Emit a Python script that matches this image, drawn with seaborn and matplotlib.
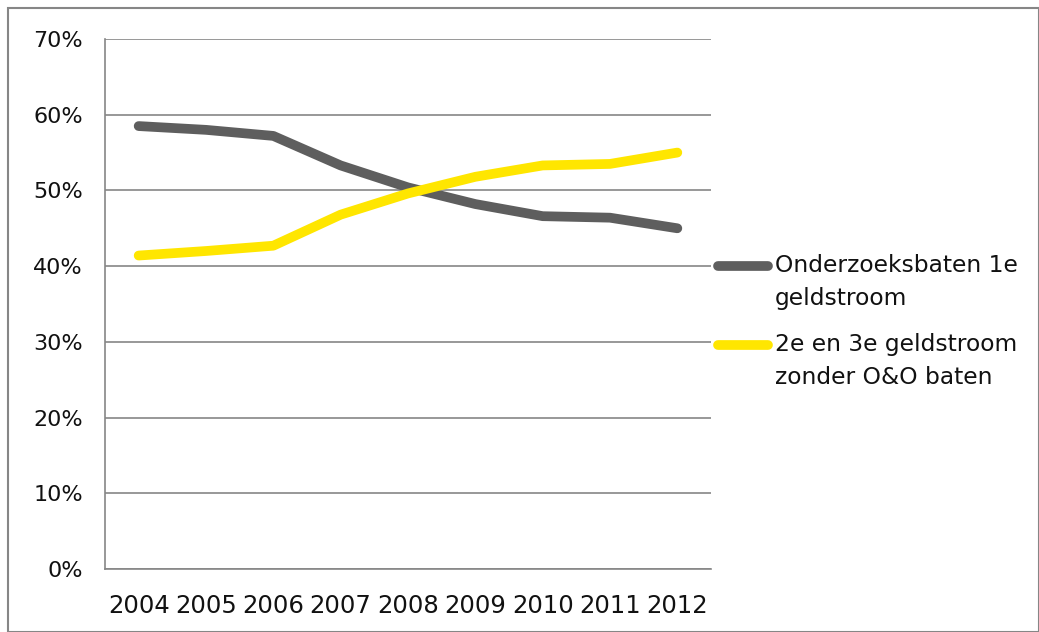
import numpy as np
import pandas as pd
import matplotlib
matplotlib.use("Agg")
import matplotlib.pyplot as plt
import seaborn as sns
from matplotlib.ticker import FixedLocator, PercentFormatter

years = ["2004", "2005", "2006", "2007", "2008", "2009", "2010", "2011", "2012"]
eerste_geldstroom = [58.5, 58.0, 57.2, 53.3, 50.4, 48.2, 46.6, 46.4, 45.0]
tweede_derde = [41.4, 42.0, 42.7, 46.8, 49.6, 51.8, 53.3, 53.5, 55.0]
series_names = ["Onderzoeksbaten 1e\ngeldstroom", "2e en 3e geldstroom\nzonder O&O baten"]
colors = ["#5e5e5e", "#ffe600"]

sns.set_style("white")
plt.rcParams["font.family"] = ["DejaVu Sans"]

W, H = 1039, 632

# --- long format for seaborn ---
df = pd.DataFrame({
    "pos": list(range(len(years))) * 2,
    "value": eerste_geldstroom + tweede_derde,
    "serie": [series_names[0]] * len(years) + [series_names[1]] * len(years),
})

fig = plt.figure(figsize=(W / 100, H / 100), dpi=100)
ax = fig.add_axes([105 / W, 1 - 569 / H, (711 - 105) / W, (569 - 39) / H])

sns.lineplot(data=df, x="pos", y="value", hue="serie", palette=colors,
             linewidth=7, ax=ax, legend=False)
for line in ax.get_lines():
    line.set_solid_capstyle("round")
    line.set_solid_joinstyle("round")

grid_col = "#868686"
ax.set_ylim(0, 70)
ax.set_yticks(np.arange(0, 71, 10))
ax.yaxis.set_major_formatter(PercentFormatter(decimals=0))
ax.set_xlim(-0.5, len(years) - 0.5)
ax.xaxis.set_major_locator(FixedLocator(np.arange(-0.5, len(years), 1.0)))
ax.xaxis.set_minor_locator(FixedLocator(np.arange(len(years))))
ax.set_xticklabels([])
ax.set_xticklabels(years, minor=True)
ax.tick_params(axis="x", which="major", length=8, width=1.2, color=grid_col, direction="out")
ax.tick_params(axis="x", which="minor", length=0, labelsize=17.5, pad=18, labelcolor="#111111")
ax.tick_params(axis="y", length=8, width=1.2, color=grid_col, direction="out",
               labelsize=16, pad=8, labelcolor="#111111")
ax.yaxis.grid(True, color=grid_col, linewidth=1.2)
ax.set_axisbelow(True)
for side in ["top", "right"]:
    ax.spines[side].set_visible(False)
for side in ["left", "bottom"]:
    ax.spines[side].set_color(grid_col)
    ax.spines[side].set_linewidth(1.2)
ax.set_xlabel("")
ax.set_ylabel("")

# --- legend to the right (handle aligned with first text line, like Excel) ---
legend_rows = [266, 345]
for name, col, row in zip(series_names, colors, legend_rows):
    fig.add_artist(plt.Line2D([718 / W, 768 / W], [1 - row / H] * 2, color=col,
                              linewidth=7, solid_capstyle="round",
                              transform=fig.transFigure))
    for i, part in enumerate(name.split("\n")):
        fig.text(775 / W, 1 - (row + i * 32) / H, part, fontsize=16.8,
                 color="#111111", va="center", ha="left")

# outer border
fig.patches.append(plt.Rectangle((8 / W, 0), 1 - 8 / W, 1 - 8 / H, transform=fig.transFigure,
                                 fill=False, edgecolor=grid_col, linewidth=1.5))

fig.savefig("out.png", dpi=100)
